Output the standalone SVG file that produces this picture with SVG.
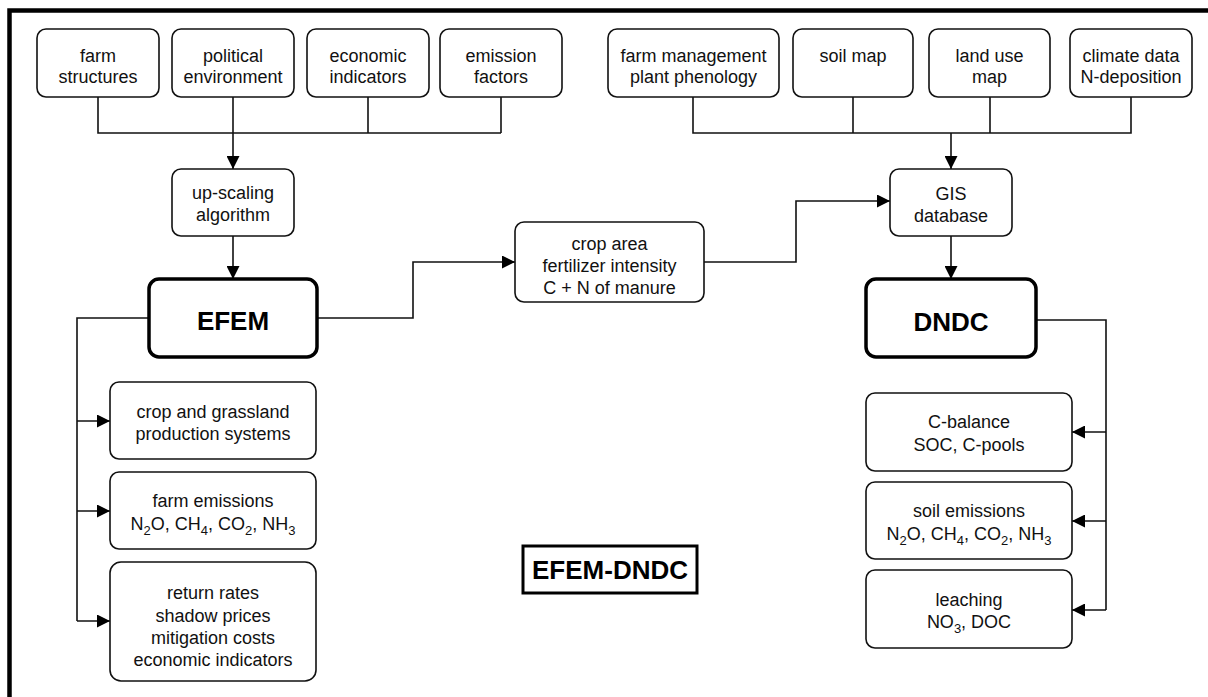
<svg xmlns="http://www.w3.org/2000/svg" width="1208" height="697" viewBox="0 0 1208 697">
<style>
  .box { fill: #fff; stroke: #111; stroke-width: 1.6; }
  .main { fill: #fff; stroke: #000; stroke-width: 3.5; }
  .t { font-family: "Liberation Sans", Arial, sans-serif; font-size: 18px; fill: #111; text-anchor: middle; }
  .b { font-family: "Liberation Sans", Arial, sans-serif; font-size: 26px; font-weight: bold; fill: #000; text-anchor: middle; }
  .sub { font-size: 13px; }
  .c { fill: none; stroke: #111; stroke-width: 1.6; }
  .ca { fill: none; stroke: #111; stroke-width: 1.6; marker-end: url(#arr); }
</style>
<defs>
  <marker id="arr" viewBox="0 0 13 13" markerWidth="13" markerHeight="13" markerUnits="userSpaceOnUse" refX="13" refY="6.5" orient="auto">
    <path d="M0,0 L13,6.5 L0,13 z" fill="#000"/>
  </marker>
</defs>
<rect x="0" y="0" width="1208" height="697" fill="#fff"/>
<path d="M9.5,697 V10.5 H1208" fill="none" stroke="#000" stroke-width="4.5"/>

<g id="connectors">
  <path class="c" d="M98,97 V133 H501 M368,97 V133 M501,97 V133"/>
  <path class="ca" d="M233,97 V169"/>
  <path class="c" d="M693,97 V133 H1131 V97 M853,97 V133 M990,97 V133"/>
  <path class="ca" d="M951,133 V169"/>
  <path class="ca" d="M233,236 V279"/>
  <path class="ca" d="M951,236 V279"/>
  <path class="ca" d="M317,318 H413 V262 H515"/>
  <path class="ca" d="M704,262 H796 V201 H890"/>
  <path class="c" d="M149,318 H77 V621"/>
  <path class="ca" d="M77,421 H110"/>
  <path class="ca" d="M77,511 H110"/>
  <path class="ca" d="M77,621 H110"/>
  <path class="c" d="M1036,320 H1106 V610"/>
  <path class="ca" d="M1106,432 H1072"/>
  <path class="ca" d="M1106,521 H1072"/>
  <path class="ca" d="M1106,610 H1072"/>
</g>

<g id="farm-structures">
  <rect class="box" x="37" y="29" width="122" height="68" rx="9"/>
  <text class="t" x="98" y="62">farm</text>
  <text class="t" x="98" y="83">structures</text>
</g>
<g id="political-environment">
  <rect class="box" x="172" y="29" width="122" height="68" rx="9"/>
  <text class="t" x="233" y="62">political</text>
  <text class="t" x="233" y="83">environment</text>
</g>
<g id="economic-indicators">
  <rect class="box" x="307" y="29" width="122" height="68" rx="9"/>
  <text class="t" x="368" y="62">economic</text>
  <text class="t" x="368" y="83">indicators</text>
</g>
<g id="emission-factors">
  <rect class="box" x="440" y="29" width="122" height="68" rx="9"/>
  <text class="t" x="501" y="62">emission</text>
  <text class="t" x="501" y="83">factors</text>
</g>

<g id="farm-management">
  <rect class="box" x="608" y="29" width="171" height="68" rx="9"/>
  <text class="t" x="693.5" y="62">farm management</text>
  <text class="t" x="693.5" y="83">plant phenology</text>
</g>
<g id="soil-map">
  <rect class="box" x="793" y="29" width="120" height="68" rx="9"/>
  <text class="t" x="853" y="62">soil map</text>
</g>
<g id="land-use-map">
  <rect class="box" x="929" y="29" width="121" height="68" rx="9"/>
  <text class="t" x="989.5" y="62">land use</text>
  <text class="t" x="989.5" y="83">map</text>
</g>
<g id="climate-data">
  <rect class="box" x="1070" y="29" width="122" height="68" rx="9"/>
  <text class="t" x="1131" y="62">climate data</text>
  <text class="t" x="1131" y="83">N-deposition</text>
</g>

<g id="up-scaling">
  <rect class="box" x="172" y="169" width="122" height="67" rx="9"/>
  <text class="t" x="233" y="199">up-scaling</text>
  <text class="t" x="233" y="221">algorithm</text>
</g>
<g id="gis">
  <rect class="box" x="890" y="169" width="122" height="67" rx="9"/>
  <text class="t" x="951" y="200">GIS</text>
  <text class="t" x="951" y="222">database</text>
</g>

<g id="efem">
  <rect class="main" x="149" y="279" width="168" height="78" rx="10"/>
  <text class="b" x="233" y="330">EFEM</text>
</g>
<g id="dndc">
  <rect class="main" x="866" y="279" width="170" height="78" rx="10"/>
  <text class="b" x="951" y="331">DNDC</text>
</g>

<g id="crop-area">
  <rect class="box" x="515" y="222" width="189" height="80" rx="9"/>
  <text class="t" x="609.5" y="250">crop area</text>
  <text class="t" x="609.5" y="272">fertilizer intensity</text>
  <text class="t" x="609.5" y="294">C + N of manure</text>
</g>

<g id="crop-grassland">
  <rect class="box" x="110" y="382" width="206" height="77" rx="9"/>
  <text class="t" x="213" y="418">crop and grassland</text>
  <text class="t" x="213" y="440">production systems</text>
</g>
<g id="farm-emissions">
  <rect class="box" x="110" y="472" width="206" height="77" rx="9"/>
  <text class="t" x="213" y="507">farm emissions</text>
  <text class="t" x="213" y="530">N<tspan class="sub" dy="5">2</tspan><tspan dy="-5">O, CH</tspan><tspan class="sub" dy="5">4</tspan><tspan dy="-5">, CO</tspan><tspan class="sub" dy="5">2</tspan><tspan dy="-5">, NH</tspan><tspan class="sub" dy="5">3</tspan></text>
</g>
<g id="economic-results">
  <rect class="box" x="110" y="562" width="206" height="119" rx="11"/>
  <text class="t" x="213" y="599">return rates</text>
  <text class="t" x="213" y="622">shadow prices</text>
  <text class="t" x="213" y="644">mitigation costs</text>
  <text class="t" x="213" y="666">economic indicators</text>
</g>

<g id="c-balance">
  <rect class="box" x="866" y="393" width="206" height="78" rx="9"/>
  <text class="t" x="969" y="428">C-balance</text>
  <text class="t" x="969" y="451">SOC, C-pools</text>
</g>
<g id="soil-emissions">
  <rect class="box" x="866" y="482" width="206" height="77" rx="9"/>
  <text class="t" x="969" y="517">soil emissions</text>
  <text class="t" x="969" y="540">N<tspan class="sub" dy="5">2</tspan><tspan dy="-5">O, CH</tspan><tspan class="sub" dy="5">4</tspan><tspan dy="-5">, CO</tspan><tspan class="sub" dy="5">2</tspan><tspan dy="-5">, NH</tspan><tspan class="sub" dy="5">3</tspan></text>
</g>
<g id="leaching">
  <rect class="box" x="866" y="570" width="206" height="78" rx="9"/>
  <text class="t" x="969" y="606">leaching</text>
  <text class="t" x="969" y="628">NO<tspan class="sub" dy="5">3</tspan><tspan dy="-5">, DOC</tspan></text>
</g>

<g id="efem-dndc-label">
  <rect x="523" y="546" width="174" height="47" fill="#fff" stroke="#000" stroke-width="3"/>
  <text class="b" x="610" y="579">EFEM-DNDC</text>
</g>
</svg>
